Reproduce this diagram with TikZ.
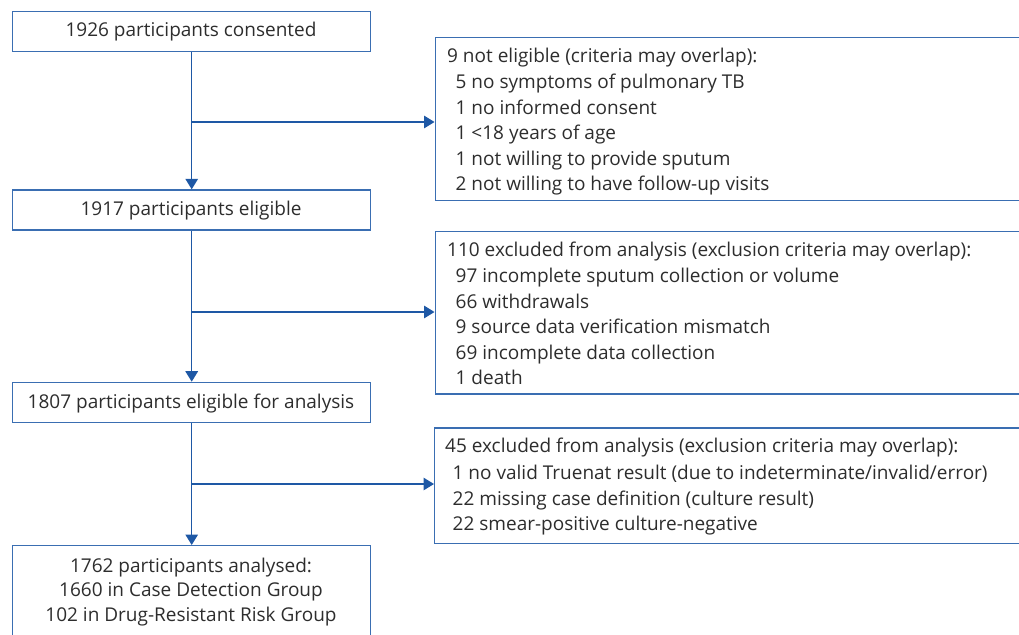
\documentclass[tikz,border=0pt]{standalone}
\usepackage{fontspec}
\setmainfont{Open Sans}
\usetikzlibrary{arrows.meta}
\definecolor{boxblue}{RGB}{58,110,178}
\definecolor{arrblue}{RGB}{30,88,165}
\definecolor{txt}{RGB}{45,45,45}
\begin{document}
\begin{tikzpicture}[x=1pt,y=-1pt,
  font=\fontsize{19}{25}\selectfont, text=txt,
  mainbox/.style={draw=boxblue, line width=1.4pt, rectangle, inner sep=0pt, anchor=north west},
  line/.style={anchor=base west, inner sep=0pt},
  cline/.style={anchor=base, inner sep=0pt},
  flow/.style={draw=arrblue, line width=1.5pt},
  arr/.style={flow, -{Triangle[length=10.5pt,width=12.5pt]}}]
\useasboundingbox (0,0) rectangle (1019,634);
\clip (0,0) rectangle (1019,634);
% left boxes
\node[mainbox, minimum width=358pt, minimum height=40pt] (b1) at (12,11) {};
\node[cline] at (191,36.7) {1926 participants consented};
\node[mainbox, minimum width=358pt, minimum height=40pt] (b2) at (12,189.3) {};
\node[cline] at (191,215) {1917 participants eligible};
\node[mainbox, minimum width=358pt, minimum height=40.3pt] (b3) at (12,381.7) {};
\node[cline] at (191,408) {1807 participants eligible for analysis};
\node[mainbox, minimum width=358pt, minimum height=110pt] (b4) at (12,545) {};
\node[cline] at (191,572) {1762 participants analysed:};
\node[cline] at (191,596.7) {1660 in Case Detection Group};
\node[cline] at (191,621.7) {102 in Drug-Resistant Risk Group};
% right boxes
\node[mainbox, minimum width=620pt, minimum height=163.3pt] (r1) at (434.5,36.7) {};
\node[line] at (447,63) {9 not eligible (criteria may overlap):};
\node[line] at (455.5,88.5) {5 no symptoms of pulmonary TB};
\node[line] at (455.5,114) {1 no informed consent};
\node[line] at (455.5,139.5) {1 <18 years of age};
\node[line] at (455.5,165) {1 not willing to provide sputum};
\node[line] at (455.5,190.5) {2 not willing to have follow-up visits};
\node[mainbox, minimum width=620pt, minimum height=162.6pt] (r2) at (434.5,230.7) {};
\node[line] at (447,256.7) {110 excluded from analysis (exclusion criteria may overlap):};
\node[line] at (455.5,282.7) {97 incomplete sputum collection or volume};
\node[line] at (455.5,308.2) {66 withdrawals};
\node[line] at (455.5,333.7) {9 source data verification mismatch};
\node[line] at (455.5,359.2) {69 incomplete data collection};
\node[line] at (455.5,384.7) {1 death};
\node[mainbox, minimum width=620pt, minimum height=115.4pt] (r3) at (434,427.3) {};
\node[line] at (445,452.7) {45 excluded from analysis (exclusion criteria may overlap):};
\node[line] at (452.5,479.3) {1 no valid Truenat result (due to indeterminate/invalid/error)};
\node[line] at (452.5,505) {22 missing case definition (culture result)};
\node[line] at (452.5,530.5) {22 smear-positive culture-negative};
% connectors
\coordinate (j1) at (191,122);
\coordinate (j2) at (191,312);
\coordinate (j3) at (191,484);
\draw[arr] (b1.south) -- (b2.north);
\draw[arr] (j1) -- (j1 -| r1.west);
\draw[arr] (b2.south) -- (b3.north);
\draw[arr] (j2) -- (j2 -| r2.west);
\draw[arr] (b3.south) -- (b4.north);
\draw[arr] (j3) -- (j3 -| r3.west);
\end{tikzpicture}
\end{document}
